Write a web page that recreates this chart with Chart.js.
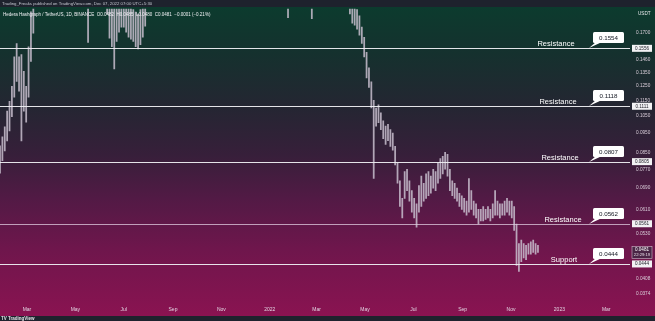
<!DOCTYPE html>
<html><head><meta charset="utf-8">
<script src="https://cdn.jsdelivr.net/npm/chart.js@4"></script>
<style>html,body{margin:0;padding:0;background:#1e222d;overflow:hidden}canvas{display:block}</style>
</head><body>
<canvas id="c" width="655" height="321"></canvas>
<script>
// ---- data (prices in USDT, 3-day bins; bin day = days after 2021-01-01) ----
const firstDay = 25;
const stepDays = 3;
const lows = [
  // Jan-Mar 2021 (visible rise)
  0.0753,0.0809,0.0857,0.0908,0.0962,0.1045,0.1171,0.1284,0.1212,0.0908,0.1080,0.1013,0.1171,0.1442,
  // Mar-Jun 2021 (mostly above chart)
  0.17,0.25,0.30,0.28,0.27,0.25,0.22,0.24,0.23,0.24,0.26,0.27,0.30,0.34,0.30,0.27,0.28,0.30,0.32,0.33,0.35,0.30,0.27,0.161,0.22,0.20,0.22,0.20,0.20,0.21,0.20,0.19,
  // Jun-Aug 2021 dip
  0.165,0.157,0.138,0.162,0.171,0.176,0.176,0.171,0.166,0.164,0.162,0.157,0.155,0.159,0.166,0.177,0.199,
  // Aug 2021 - Apr 2022 (above chart)
  0.205,0.21,0.22,0.24,0.26,0.27,0.28,0.28,0.29,0.30,
  0.33,0.30,0.32,0.38,0.40,0.36,0.34,0.31,0.30,0.31,
  0.33,0.34,0.35,0.36,0.35,0.34,0.35,0.36,0.35,0.34,
  0.36,0.38,0.40,0.37,0.35,0.34,0.35,0.33,0.30,0.29,
  0.28,0.26,0.24,0.22,0.23,0.25,0.26,0.25,0.26,0.25,
  0.26,0.27,0.26,0.25,0.24,0.22,0.20,0.198,0.186,0.20,
  0.21,0.21,0.22,0.23,0.22,0.21,0.20,0.199,0.185,0.198,
  0.20,0.20,0.199,0.198,0.20,0.21,0.22,0.23,0.24,0.23,
  0.22,0.21,0.20,
  // Apr - Dec 2022
  0.20,0.19,0.180,0.178,0.174,0.168,0.160,0.148,0.131,0.124,
  0.110,0.073,0.099,0.101,0.097,0.092,0.089,0.091,0.088,0.086,
  0.079,0.071,0.062,0.058,0.065,0.068,0.064,0.060,0.058,0.055,
  0.060,0.062,0.064,0.065,0.066,0.067,0.069,0.068,0.071,0.073,
  0.075,0.077,0.074,0.068,0.066,0.065,0.064,0.062,0.061,0.060,
  0.059,0.060,0.061,0.059,0.058,0.056,0.057,0.057,0.0575,0.058,
  0.057,0.058,0.059,0.059,0.058,0.059,0.059,0.060,0.059,0.058,
  0.054,0.044,0.0425,0.045,0.046,0.0455,0.047,0.047,0.0475,0.047,
  0.0475
];
const highs = [
  0.0882,0.0930,0.0985,0.1080,0.1144,0.1248,0.1480,0.1600,0.1480,0.1500,0.1361,0.1248,0.1570,0.1925,
  0.25,0.38,0.45,0.40,0.35,0.32,0.30,0.30,0.28,0.30,0.32,0.34,0.40,0.45,0.38,0.33,0.33,0.35,0.40,0.42,0.45,0.40,0.33,0.30,0.30,0.27,0.28,0.25,0.25,0.26,0.24,0.23,
  0.205,0.21,0.20,0.21,0.22,0.23,0.22,0.21,0.20,0.198,0.195,0.192,0.19,0.195,0.20,0.21,0.23,
  0.24,0.25,0.27,0.30,0.32,0.34,0.33,0.34,0.36,0.38,
  0.40,0.38,0.42,0.50,0.57,0.48,0.42,0.38,0.36,0.37,
  0.40,0.41,0.42,0.44,0.42,0.40,0.41,0.43,0.41,0.40,
  0.43,0.46,0.48,0.45,0.42,0.40,0.41,0.40,0.37,0.35,
  0.34,0.32,0.30,0.28,0.29,0.31,0.31,0.30,0.31,0.30,
  0.31,0.32,0.31,0.30,0.29,0.26,0.24,0.23,0.22,0.24,
  0.25,0.25,0.26,0.27,0.26,0.25,0.24,0.23,0.22,0.23,
  0.24,0.23,0.22,0.22,0.23,0.25,0.27,0.28,0.29,0.28,
  0.27,0.25,0.24,
  0.24,0.23,0.205,0.200,0.195,0.188,0.176,0.166,0.152,0.139,
  0.128,0.115,0.110,0.112,0.107,0.102,0.099,0.100,0.097,0.095,
  0.088,0.080,0.072,0.065,0.076,0.077,0.072,0.068,0.065,0.063,
  0.070,0.074,0.071,0.075,0.076,0.074,0.077,0.076,0.080,0.082,
  0.083,0.085,0.084,0.077,0.072,0.071,0.069,0.067,0.066,0.065,
  0.064,0.073,0.068,0.064,0.063,0.061,0.061,0.062,0.061,0.062,
  0.061,0.063,0.068,0.064,0.063,0.063,0.064,0.065,0.064,0.064,
  0.062,0.056,0.050,0.051,0.050,0.0495,0.050,0.0505,0.051,0.050,
  0.0495
];
const xTickDays = [59,120,181,243,304,365,424,485,546,608,669,730,789];
const xTickLabels = ['Mar','May','Jul','Sep','Nov','2022','Mar','May','Jul','Sep','Nov','2023','Mar'];
const yTickValues = [0.1700,0.1460,0.1350,0.1250,0.1150,0.1050,0.0950,0.0850,0.0770,0.0690,0.0610,0.0530,0.0408,0.0374];
const levelPrices = [0.1556,0.1111,0.0805,0.0561,0.0444];
const levelAxisText = ['0.1556','0.1111','0.0805','0.0561','0.0444'];
const levelNames = ['Resistance','Resistance','Resistance','Resistance','Support'];
const levelTags = ['0.1554','0.1118','0.0807','0.0562','0.0444'];
const lastClose = 0.0481;
const lastCloseText = '0.0481';
const countdownText = '22:29:19';
const headerPublished = 'Trading_Freaks published on TradingView.com, Dec 07, 2022 07:00 UTC+5:30';
const headerSymbol = 'Hedera Hashgraph / TetherUS, 1D, BINANCE  O0.0482  H0.0485  L0.0480  C0.0481  \u22120.0001 (\u22120.21%)';
const quoteUnit = 'USDT';

// ---- layout / style ----
const nameX = [556, 558, 560, 563, 564];
const FONT = '"Liberation Sans", Arial, sans-serif';

const days = lows.map((_, i) => firstDay + i * stepDays);
const candles = days.map((d, i) => ({ x: d, y: [lows[i], highs[i]] }));

function rr(ctx, x, y, w, h, r) {
  ctx.beginPath();
  ctx.moveTo(x + r, y); ctx.lineTo(x + w - r, y); ctx.quadraticCurveTo(x + w, y, x + w, y + r);
  ctx.lineTo(x + w, y + h - r); ctx.quadraticCurveTo(x + w, y + h, x + w - r, y + h);
  ctx.lineTo(x + r, y + h); ctx.quadraticCurveTo(x, y + h, x, y + h - r);
  ctx.lineTo(x, y + r); ctx.quadraticCurveTo(x, y, x + r, y); ctx.closePath();
}

const decor = {
  id: 'decor',
  beforeDraw(chart) {
    const { ctx, width, height } = chart;
    ctx.save();
    ctx.fillStyle = '#1e222d';
    ctx.fillRect(0, 0, width, height);
    const g = ctx.createLinearGradient(0, 7, 0, 316);
    g.addColorStop(0.00, '#0c3b2e');
    g.addColorStop(0.15, '#15312e');
    g.addColorStop(0.32, '#242632');
    g.addColorStop(0.48, '#371f3a');
    g.addColorStop(0.62, '#521a45');
    g.addColorStop(0.78, '#6e164c');
    g.addColorStop(1.00, '#8a1351');
    ctx.fillStyle = g;
    ctx.fillRect(0, 7, width, 309);
    ctx.restore();
  },
  afterDatasetsDraw(chart) {
    const { ctx, chartArea } = chart;
    const ys = chart.scales.y;
    ctx.save();
    levelPrices.forEach((p, i) => {
      const y = Math.round(ys.getPixelForValue(p)) + 0.5;
      ctx.strokeStyle = i === 3 ? 'rgba(225,205,225,0.75)' : 'rgba(238,238,242,0.95)';
      ctx.lineWidth = 1;
      ctx.beginPath(); ctx.moveTo(chartArea.left, y); ctx.lineTo(chartArea.right, y); ctx.stroke();
      ctx.fillStyle = '#ffffff';
      ctx.font = '7.5px ' + FONT;
      ctx.textAlign = 'center'; ctx.textBaseline = 'middle';
      ctx.fillText(levelNames[i], nameX[i], y - 5);
      const bx = 593, bw = 31, bh = 11, by = y - 16.5;
      ctx.fillStyle = '#ffffff';
      ctx.beginPath();
      ctx.moveTo(bx + 3, by + bh - 1); ctx.lineTo(bx + 9, by + bh - 1); ctx.lineTo(bx - 4, y - 0.5); ctx.closePath();
      ctx.fill();
      rr(ctx, bx, by, bw, bh, 1.5); ctx.fill();
      ctx.fillStyle = '#131722';
      ctx.font = '6.2px ' + FONT;
      ctx.fillText(levelTags[i], bx + bw / 2, by + bh / 2 + 0.3);
    });
    ctx.restore();
  },
  afterDraw(chart) {
    const { ctx, width, height, chartArea } = chart;
    const ys = chart.scales.y;
    ctx.save();
    ctx.textAlign = 'center'; ctx.textBaseline = 'middle';
    levelPrices.forEach((p, i) => {
      const y = ys.getPixelForValue(p);
      ctx.fillStyle = '#f2f2f4';
      ctx.fillRect(chartArea.right + 2, y - 3.5, 20, 7);
      ctx.fillStyle = '#1a1a24';
      ctx.font = '4.6px ' + FONT;
      ctx.fillText(levelAxisText[i], chartArea.right + 12, y + 0.2);
    });
    const yc = ys.getPixelForValue(lastClose);
    ctx.fillStyle = 'rgba(70,40,70,0.9)';
    ctx.fillRect(chartArea.right + 2, yc - 3.5, 20, 12);
    ctx.strokeStyle = 'rgba(235,225,235,0.8)'; ctx.lineWidth = 0.6;
    ctx.strokeRect(chartArea.right + 2, yc - 3.5, 20, 12);
    ctx.fillStyle = '#ffffff';
    ctx.font = '4.6px ' + FONT;
    ctx.fillText(lastCloseText, chartArea.right + 12, yc);
    ctx.font = '4.2px ' + FONT;
    ctx.fillStyle = '#e6dbe6';
    ctx.fillText(countdownText, chartArea.right + 12, yc + 5);
    ctx.fillStyle = '#e8e8ec';
    ctx.font = '4.6px ' + FONT;
    ctx.textAlign = 'left';
    ctx.fillText(quoteUnit, chartArea.right + 8, 14);
    ctx.fillStyle = '#1e222d';
    ctx.fillRect(0, 0, width, 7);
    ctx.fillStyle = '#c3c6cf';
    ctx.font = '4.3px ' + FONT;
    ctx.fillText(headerPublished, 2, 3.8);
    ctx.fillStyle = '#f0f0f4';
    ctx.font = '4.5px ' + FONT;
    ctx.fillText(headerSymbol, 3, 14.5);
    ctx.fillStyle = '#1e222d';
    ctx.fillRect(0, 316, width, height - 316);
    ctx.fillStyle = '#e6e6ea';
    ctx.font = 'bold 4.5px ' + FONT;
    ctx.fillText('TV TradingView', 1, 318.8);
    ctx.restore();
  }
};

new Chart(document.getElementById('c'), {
  type: 'bar',
  data: {
    datasets: [{
      data: candles,
      backgroundColor: 'rgba(200,190,206,0.85)',
      borderWidth: 0,
      barThickness: 1.1,
      grouped: false
    }]
  },
  options: {
    responsive: false,
    animation: false,
    devicePixelRatio: 1,
    layout: { padding: { top: 7, left: 0, right: 0, bottom: 0 } },
    plugins: { legend: { display: false }, tooltip: { enabled: false } },
    scales: {
      x: {
        type: 'linear', min: 25, max: 819, offset: false,
        grid: { display: false, drawTicks: false, offset: false }, border: { display: false },
        afterBuildTicks: s => { s.ticks = xTickDays.map(v => ({ value: v })); },
        afterFit: s => { s.height = 18; },
        ticks: {
          autoSkip: false, maxRotation: 0, padding: 4, color: '#e0d2e0',
          font: { size: 5, family: FONT },
          callback: v => { const k = xTickDays.indexOf(v); return k >= 0 ? xTickLabels[k] : ''; }
        }
      },
      y: {
        type: 'logarithmic', position: 'right', min: 0.03538, max: 0.1958,
        grid: { display: false, drawTicks: false }, border: { display: false },
        afterBuildTicks: s => { s.ticks = yTickValues.map(v => ({ value: v })); },
        afterFit: s => { s.width = 25; },
        ticks: {
          autoSkip: false, padding: 6, crossAlign: 'near', color: '#d8ccd8',
          font: { size: 4.7, family: FONT },
          callback: v => Number(v).toFixed(4)
        }
      }
    }
  },
  plugins: [decor]
});
</script>
</body></html>
